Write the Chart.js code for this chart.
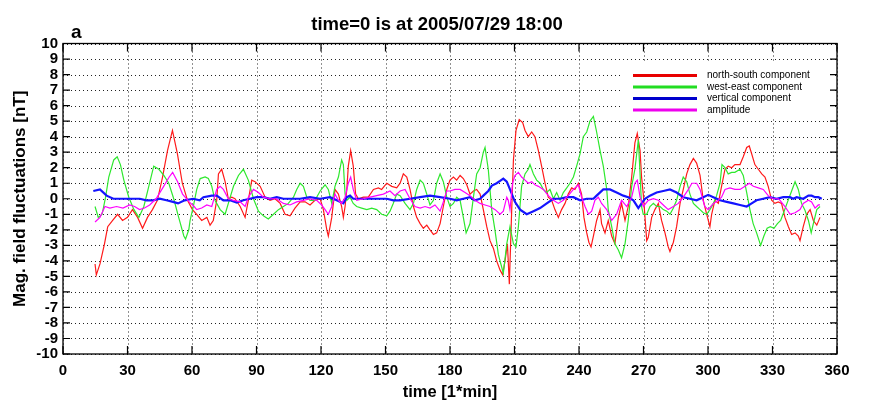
<!DOCTYPE html>
<html><head><meta charset="utf-8">
<script src="https://cdn.jsdelivr.net/npm/chart.js@4.4.1/dist/chart.umd.min.js"></script>
<style>html,body{margin:0;padding:0;background:#fff}#wrap{width:872px;height:410px}</style>
</head><body><div id="wrap"><canvas id="c" width="872" height="410"></canvas></div>
<script>
const titleText = 'time=0 is at 2005/07/29 18:00';
const panelLabel = 'a';
const xTitle = 'time [1*min]';
const yTitle = 'Mag. field fluctuations [nT]';
const seriesNames = ['north-south component','west-east component','vertical component','amplitude'];
const xTicks = [0,30,60,90,120,150,180,210,240,270,300,330,360];
const yTicks = [-10,-9,-8,-7,-6,-5,-4,-3,-2,-1,0,1,2,3,4,5,6,7,8,9,10];

// [time (min), value (nT)]
const northSouth = [[14.9,-4.2],[15.5,-4.9],[17.2,-4.2],[19.3,-2.9],[20.8,-1.8],[23.1,-1.4],[25.4,-1.0],[27.7,-1.4],[30.0,-1.2],[32.3,-0.7],[34.7,-1.2],[37.0,-1.9],[39.3,-1.2],[41.6,-0.7],[43.9,-0.1],[46.3,1.4],[48.6,3.1],[50.9,4.4],[53.2,2.9],[55.5,1.0],[57.9,-0.1],[60.2,-0.7],[62.2,-1.0],[64.5,-1.4],[66.9,-1.2],[68.4,-1.7],[69.9,-1.4],[71.5,-0.1],[72.3,1.6],[73.8,1.9],[75.4,1.1],[76.9,0.0],[78.5,0.1],[80.0,0.0],[82.4,-0.5],[84.7,-1.2],[86.2,-0.1],[87.8,1.2],[89.3,1.1],[91.7,0.8],[94.0,0.1],[96.3,-0.1],[98.6,0.0],[101.0,-0.3],[103.3,-1.0],[105.6,-1.1],[107.9,-0.6],[110.3,-0.2],[112.6,-0.2],[114.9,-0.4],[117.2,-0.1],[119.6,0.0],[121.1,-0.7],[122.7,-2.0],[123.4,-2.4],[125.0,-1.2],[126.5,0.6],[128.1,0.3],[129.6,-0.5],[130.4,-1.2],[131.2,-0.5],[132.0,0.6],[132.7,2.1],[133.8,3.1],[135.0,2.1],[136.1,0.3],[137.4,0.0],[139.7,0.1],[142.0,0.1],[144.4,0.6],[146.7,0.7],[148.2,0.6],[150.6,1.0],[152.9,0.8],[155.2,0.7],[156.8,1.0],[158.3,1.6],[159.9,1.4],[161.4,0.6],[163.0,-0.5],[164.5,-1.2],[166.1,-1.6],[167.6,-1.9],[169.2,-1.7],[170.7,-2.0],[172.3,-2.3],[173.8,-2.2],[175.4,-1.6],[176.9,-0.5],[178.5,0.6],[180.0,1.2],[181.6,1.4],[183.1,1.2],[184.7,1.5],[186.2,1.3],[187.8,0.9],[189.3,0.3],[190.9,0.5],[192.4,0.6],[194.0,0.3],[195.5,-0.7],[197.1,-1.8],[198.6,-2.7],[200.2,-3.2],[201.7,-4.0],[203.3,-4.6],[204.5,-4.9],[205.6,-4.0],[206.7,-2.9],[207.6,-5.5],[208.7,-0.7],[209.5,2.5],[210.7,4.4],[212.2,5.1],[213.8,4.9],[214.9,4.4],[216.4,4.0],[218.0,4.3],[219.5,4.0],[221.1,3.1],[222.6,2.1],[224.2,1.0],[225.7,0.1],[227.3,-0.1],[228.8,-0.7],[230.4,-1.2],[231.9,-0.7],[233.5,-0.3],[235.0,0.3],[236.6,0.7],[238.1,0.6],[239.7,1.0],[241.2,0.3],[242.3,-1.2],[243.6,-2.2],[244.6,-2.8],[245.6,-3.1],[246.7,-2.4],[248.2,-1.4],[249.8,-0.7],[250.5,-1.6],[252.1,-2.2],[253.6,-1.4],[255.2,-2.4],[256.7,-2.9],[258.3,-1.2],[259.8,-0.3],[261.4,-1.4],[262.9,-0.5],[264.5,1.4],[266.0,3.6],[267.1,4.2],[268.4,3.1],[269.1,1.4],[269.9,0.3],[271.5,-2.7],[272.2,-2.5],[273.8,-1.2],[275.3,-0.7],[276.9,-0.3],[278.4,-1.4],[280.0,-2.2],[281.5,-3.1],[282.3,-3.4],[283.9,-2.8],[285.4,-1.8],[287.0,-0.3],[288.5,0.6],[290.1,1.6],[291.6,2.2],[293.2,2.6],[294.7,2.3],[296.3,1.5],[297.8,-0.1],[299.4,-1.0],[300.9,-1.8],[301.7,-1.0],[303.2,-0.1],[304.8,-0.3],[306.3,0.8],[307.9,1.9],[309.4,2.1],[311.0,2.0],[312.5,2.2],[314.9,2.2],[316.4,2.7],[318.0,3.3],[319.2,3.4],[320.3,2.9],[321.8,2.2],[323.4,1.9],[325.0,1.6],[326.5,1.4],[328.0,0.8],[329.6,-0.1],[331.1,-0.3],[332.7,-0.2],[334.2,-0.3],[335.8,-1.2],[337.4,-1.8],[338.9,-2.3],[340.5,-2.2],[342.0,-2.4],[342.8,-2.7],[344.3,-1.8],[345.9,-1.0],[347.5,-0.7],[349.0,-1.4],[350.6,-1.7],[352.1,-1.2]];

const westEast = [[14.9,-0.5],[16.4,-1.2],[18.2,-1.0],[19.8,0.1],[21.3,1.4],[23.6,2.5],[25.2,2.7],[26.7,2.2],[28.3,1.2],[30.6,0.1],[33.0,-0.7],[35.3,-1.2],[37.6,-0.5],[39.9,0.8],[42.2,2.1],[44.6,1.9],[46.9,1.5],[49.2,1.0],[51.5,0.0],[53.8,-1.2],[56.2,-2.4],[57.0,-2.6],[58.5,-2.0],[59.1,-1.4],[60.6,-0.5],[62.2,0.6],[63.8,1.3],[66.1,1.4],[67.6,1.3],[69.2,0.8],[70.7,-0.1],[73.1,-0.7],[75.4,-1.0],[76.9,-0.3],[79.3,0.8],[81.6,1.5],[83.9,1.9],[86.2,1.2],[88.6,0.0],[90.9,-0.8],[93.2,-1.1],[95.5,-1.3],[97.9,-1.0],[100.2,-0.7],[102.5,-0.5],[104.8,-0.3],[107.2,0.1],[108.7,0.6],[110.3,1.0],[111.8,0.8],[113.4,0.1],[114.9,-0.1],[117.2,-0.1],[119.6,0.5],[121.9,0.9],[123.4,0.6],[125.0,-0.3],[126.5,0.8],[128.1,1.4],[129.6,2.5],[130.4,2.2],[131.2,0.3],[132.0,-0.1],[133.5,0.1],[135.0,-0.3],[136.6,-0.5],[138.9,-0.6],[141.3,-0.7],[143.6,-0.6],[145.9,-0.7],[148.2,-1.0],[150.6,-1.1],[152.1,-0.8],[153.6,-0.3],[155.2,0.3],[156.8,0.2],[159.1,-0.3],[161.4,-0.7],[163.0,-0.3],[164.5,0.6],[166.1,1.2],[167.6,1.0],[169.2,0.3],[170.7,-0.4],[172.3,-0.1],[173.8,1.0],[175.4,1.6],[176.9,1.1],[178.5,0.1],[180.0,-0.5],[181.6,-0.3],[183.1,0.1],[184.7,-0.1],[186.2,-1.2],[187.5,-2.2],[189.3,-1.6],[190.9,0.1],[192.4,1.6],[194.0,2.0],[195.5,3.0],[196.3,3.3],[197.8,1.9],[199.4,-0.7],[200.9,-2.0],[202.5,-3.6],[204.8,-4.8],[206.4,-2.9],[207.9,-1.8],[209.5,-2.9],[210.7,-3.1],[211.8,-1.8],[213.3,0.8],[214.9,1.6],[216.4,1.9],[217.2,2.2],[218.8,1.6],[220.3,1.2],[221.9,1.0],[223.4,0.6],[225.0,0.4],[226.5,0.6],[228.1,0.0],[229.6,0.4],[231.2,-0.1],[232.7,0.4],[234.3,0.7],[235.8,1.0],[237.4,1.4],[238.9,2.1],[240.5,2.9],[242.0,4.0],[243.6,4.3],[245.1,5.0],[246.7,5.3],[248.2,4.3],[249.8,3.1],[251.3,2.1],[252.9,0.6],[253.6,-0.7],[255.2,-1.8],[256.7,-2.9],[258.3,-3.3],[259.8,-3.8],[261.4,-2.9],[262.9,-1.4],[264.5,0.8],[266.0,1.9],[267.6,3.8],[268.4,1.6],[269.1,-0.5],[269.9,-1.0],[271.5,-1.0],[273.0,-0.5],[274.6,-0.3],[276.1,-0.5],[277.7,-0.5],[279.2,-0.7],[280.8,-0.8],[282.3,-1.0],[283.9,-0.6],[285.4,-0.1],[287.0,0.8],[288.5,1.4],[290.1,1.1],[291.6,0.3],[293.2,-0.3],[294.7,-0.5],[296.3,-0.7],[297.8,-0.9],[299.4,-1.0],[300.9,-0.7],[302.5,-0.3],[304.0,0.2],[305.6,1.0],[306.5,2.2],[307.9,2.0],[309.4,1.6],[311.0,1.7],[312.5,1.7],[314.9,1.9],[316.4,1.5],[318.0,0.4],[319.5,-0.7],[321.0,-1.6],[322.6,-2.2],[324.5,-3.0],[326.0,-2.4],[327.5,-1.9],[329.0,-1.8],[330.7,-1.9],[332.3,-1.6],[333.8,-1.4],[335.4,-0.8],[337.0,-0.2],[338.9,0.5],[340.5,1.1],[342.0,0.6],[343.5,-0.3],[345.0,-0.7],[346.7,-1.4],[348.0,-2.2],[349.0,-1.6],[350.6,-0.7],[352.1,-0.5]];

const vertical = [[14.1,0.5],[17.2,0.6],[20.3,0.2],[23.4,0.0],[26.5,0.0],[29.6,0.0],[32.7,0.0],[35.7,0.0],[38.8,-0.1],[41.9,-0.1],[45.0,0.0],[48.1,-0.1],[51.2,-0.2],[53.5,-0.3],[56.6,-0.1],[60.5,0.0],[63.6,-0.1],[65.3,0.1],[69.2,0.2],[71.5,0.2],[74.6,-0.1],[77.7,-0.1],[80.8,-0.25],[83.9,-0.1],[87.0,0.0],[90.1,0.1],[93.2,0.1],[96.3,0.0],[99.4,0.1],[102.5,0.0],[105.6,0.0],[110.3,0.0],[114.9,0.1],[119.6,0.0],[124.2,0.1],[127.3,-0.1],[130.4,-0.3],[132.0,0.1],[133.5,0.2],[135.0,0.0],[138.2,0.0],[141.3,0.0],[144.4,0.0],[147.5,0.0],[150.6,0.0],[153.7,-0.1],[156.8,-0.1],[161.4,0.0],[166.1,0.1],[170.7,0.2],[175.4,0.1],[180.0,0.0],[183.1,-0.1],[186.2,0.0],[189.3,0.1],[191.6,-0.1],[194.0,0.0],[195.5,0.2],[197.8,0.5],[199.5,0.85],[201.7,1.0],[203.3,1.15],[204.8,1.3],[206.4,1.1],[207.9,0.6],[210.2,-0.2],[212.6,-0.7],[215.7,-1.0],[218.8,-0.8],[221.9,-0.6],[225.0,-0.3],[228.1,0.0],[231.2,0.0],[234.3,0.1],[237.4,0.1],[240.5,-0.1],[243.6,0.0],[246.7,0.0],[248.2,0.2],[251.3,0.6],[254.4,0.6],[257.5,0.4],[260.6,0.2],[262.9,0.1],[265.3,-0.1],[267.6,-0.6],[269.1,-0.3],[270.7,0.0],[273.0,0.2],[276.1,0.4],[279.2,0.5],[282.3,0.6],[285.4,0.4],[288.5,0.1],[291.6,0.0],[294.7,-0.1],[297.8,0.1],[300.1,0.25],[302.5,0.1],[305.6,-0.1],[308.7,-0.2],[311.8,-0.3],[314.9,-0.4],[318.0,-0.5],[320.3,-0.3],[322.6,-0.1],[325.7,0.0],[328.8,0.1],[331.9,0.0],[335.0,0.1],[338.1,0.1],[339.7,0.0],[341.2,0.1],[344.3,0.0],[346.7,0.2],[348.2,0.2],[349.8,0.1],[351.3,0.1],[352.9,0.0]];

const amplitude = [[14.9,-1.5],[17.2,-1.2],[19.5,-0.5],[21.8,-0.6],[24.9,-0.5],[27.9,-0.6],[31.0,-0.4],[33.3,-0.5],[35.6,-0.7],[37.9,-0.6],[40.3,-0.4],[43.3,0.0],[46.4,0.7],[49.4,1.4],[51.0,1.7],[53.3,1.1],[55.6,0.3],[58.7,-0.2],[61.0,-0.5],[62.2,-0.7],[64.5,-0.6],[66.9,-0.4],[69.2,-0.5],[71.5,0.6],[73.1,0.8],[74.6,0.6],[76.9,0.0],[79.3,-0.1],[82.4,-0.2],[84.7,-0.5],[86.2,0.1],[88.6,0.6],[90.9,0.4],[93.2,0.1],[96.3,0.0],[99.4,0.0],[102.5,-0.3],[105.6,-0.4],[108.7,-0.2],[111.8,-0.1],[114.9,0.0],[118.0,-0.1],[120.3,-0.4],[121.9,-0.7],[123.4,-1.0],[125.0,-0.5],[126.5,0.3],[128.1,-0.1],[129.6,-0.3],[131.2,0.1],[132.7,1.0],[133.8,1.4],[135.0,0.6],[136.6,-0.1],[139.7,0.0],[142.8,0.1],[145.9,0.2],[149.0,0.3],[152.1,0.5],[154.4,0.2],[156.8,0.5],[159.1,0.6],[161.4,0.0],[163.7,-0.5],[166.1,-0.6],[168.4,-0.5],[170.7,-0.6],[173.0,-0.4],[175.4,-0.8],[176.9,-0.2],[178.5,0.5],[180.0,0.5],[182.3,0.6],[184.7,0.6],[187.0,0.4],[189.3,0.2],[191.6,-0.1],[194.0,-0.3],[196.3,-0.4],[198.6,-0.5],[201.0,-0.7],[203.3,-1.0],[204.8,-0.8],[206.4,0.1],[207.1,-0.1],[207.9,-0.7],[209.1,1.0],[210.2,1.5],[211.8,1.7],[213.3,1.4],[214.9,1.2],[216.4,1.0],[218.0,1.1],[219.5,0.9],[221.1,0.8],[223.4,0.6],[225.7,0.2],[228.1,-0.1],[230.4,-0.3],[232.7,-0.1],[235.0,0.2],[237.4,0.6],[239.7,0.9],[241.2,0.1],[242.8,-0.5],[244.4,-1.0],[245.9,-0.8],[247.4,-0.1],[249.0,0.1],[250.5,-0.3],[252.9,-0.7],[255.2,-1.4],[257.5,-1.0],[259.8,-0.1],[262.2,-0.5],[264.5,0.1],[266.0,1.0],[267.1,1.2],[268.4,0.1],[269.9,-0.5],[272.2,-0.1],[274.6,0.0],[276.9,-0.1],[279.2,-0.4],[281.5,-0.7],[283.9,-0.5],[286.2,-0.3],[288.5,0.1],[290.9,0.6],[292.5,1.0],[294.7,1.0],[296.3,0.6],[298.5,-0.5],[300.1,-0.7],[302.5,-0.3],[304.8,-0.1],[306.3,0.1],[307.9,0.6],[310.2,0.7],[312.5,0.6],[314.9,0.6],[317.2,0.8],[319.2,1.0],[321.1,0.8],[323.4,0.7],[325.7,0.6],[328.0,0.2],[330.3,0.0],[332.7,0.0],[333.5,-0.1],[335.8,-0.5],[338.2,-1.0],[340.5,-0.9],[342.8,-0.7],[344.3,-0.3],[346.7,-0.1],[348.2,-0.2],[349.8,-0.6],[351.3,-0.4],[352.1,-0.4]];

const seriesData = [northSouth, westEast, vertical, amplitude];
const seriesColors = ['#ff1a1a', '#2ee82e', '#1414ff', '#ff00ff'];
const legendColors = ['#e80000', '#22dd22', '#0000cc', '#ee00ee'];
const seriesWidths = [1.2, 1.2, 2.2, 1.2];

const FONT = '"Liberation Sans", Arial, Helvetica, sans-serif';

const frame = {
  id: 'frame',
  beforeDatasetsDraw(chart) {
    const {ctx, chartArea: a, scales: {x, y}} = chart;
    ctx.save();
    ctx.strokeStyle = '#222';
    ctx.lineWidth = 1;
    ctx.setLineDash([1, 3]);
    ctx.beginPath();
    xTicks.forEach(v => { const px = Math.round(x.getPixelForValue(v)) + 0.5; ctx.moveTo(px, a.top); ctx.lineTo(px, a.bottom); });
    yTicks.forEach(v => { const py = Math.round(y.getPixelForValue(v)) + 0.5; ctx.moveTo(a.left, py); ctx.lineTo(a.right, py); });
    ctx.stroke();
    ctx.restore();
  },
  afterDatasetsDraw(chart) {
    const {ctx, chartArea: a, scales: {x, y}} = chart;
    ctx.save();
    // legend
    ctx.fillStyle = '#fff';
    ctx.fillRect(621, 63, 211, 55);
    seriesNames.forEach((name, i) => {
      const ly = 75.5 + i * 11.5;
      ctx.strokeStyle = legendColors[i];
      ctx.lineWidth = 3;
      ctx.beginPath(); ctx.moveTo(633, ly); ctx.lineTo(697, ly); ctx.stroke();
      ctx.fillStyle = '#000';
      ctx.font = '10px ' + FONT;
      ctx.textAlign = 'left'; ctx.textBaseline = 'middle';
      ctx.fillText(name, 707, ly);
    });
    // box
    ctx.strokeStyle = '#000';
    ctx.lineWidth = 1.3;
    ctx.strokeRect(a.left, a.top, a.right - a.left, a.bottom - a.top);
    // inward ticks
    ctx.lineWidth = 1.2;
    ctx.beginPath();
    xTicks.forEach(v => { const px = x.getPixelForValue(v); ctx.moveTo(px, a.bottom); ctx.lineTo(px, a.bottom - 8); ctx.moveTo(px, a.top); ctx.lineTo(px, a.top + 8); });
    yTicks.forEach(v => { const py = y.getPixelForValue(v); ctx.moveTo(a.left, py); ctx.lineTo(a.left + 7, py); ctx.moveTo(a.right, py); ctx.lineTo(a.right - 7, py); });
    ctx.stroke();
    // title and panel label
    ctx.fillStyle = '#000';
    ctx.textBaseline = 'alphabetic';
    ctx.textAlign = 'center';
    ctx.font = 'bold 18.5px ' + FONT;
    ctx.fillText(titleText, 437, 29.5);
    ctx.textAlign = 'left';
    ctx.font = 'bold 19px ' + FONT;
    ctx.fillText(panelLabel, 71, 38);
    ctx.restore();
  }
};

new Chart(document.getElementById('c'), {
  type: 'line',
  data: {
    datasets: seriesData.map((d, i) => ({
      label: seriesNames[i],
      data: d.map(p => ({x: p[0], y: p[1]})),
      borderColor: seriesColors[i],
      backgroundColor: seriesColors[i],
      borderWidth: seriesWidths[i],
      pointRadius: 0,
      tension: 0,
      fill: false,
      order: 4 - i
    }))
  },
  options: {
    responsive: false,
    animation: false,
    devicePixelRatio: 1,
    parsing: true,
    layout: {padding: {top: 43.5, right: 35, bottom: 0, left: 0}},
    plugins: {legend: {display: false}, tooltip: {enabled: false}, title: {display: false}},
    scales: {
      x: {
        type: 'linear', min: 0, max: 360,
        afterBuildTicks: s => { s.ticks = xTicks.map(v => ({value: v})); },
        ticks: {color: '#000', font: {family: FONT, size: 15, weight: 'bold'}, padding: 8, maxRotation: 0, autoSkip: false},
        grid: {display: false, drawTicks: false},
        border: {display: false},
        title: {display: true, text: xTitle, color: '#000', font: {family: FONT, size: 16.5, weight: 'bold'}, padding: {top: 0, bottom: 8}},
        afterFit: s => { s.height = 56; }
      },
      y: {
        type: 'linear', min: -10, max: 10,
        afterBuildTicks: s => { s.ticks = yTicks.map(v => ({value: v})); },
        ticks: {color: '#000', font: {family: FONT, size: 15, weight: 'bold'}, padding: 5, autoSkip: false},
        grid: {display: false, drawTicks: false},
        border: {display: false},
        title: {display: true, text: yTitle, color: '#000', font: {family: FONT, size: 17, weight: 'bold'}, padding: {top: 10, bottom: 0}},
        afterFit: s => { s.width = 63; }
      }
    }
  },
  plugins: [frame]
});
</script>
</body></html>
